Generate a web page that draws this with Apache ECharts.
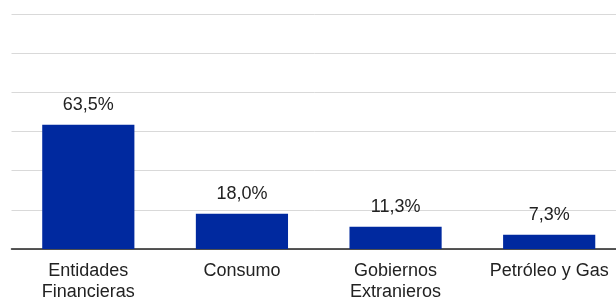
<!DOCTYPE html>
<html><head><meta charset="utf-8">
<script src="https://cdn.jsdelivr.net/npm/echarts@6/dist/echarts.min.js"></script>
<style>html,body{margin:0;padding:0;background:#fff}#c{width:616px;height:299px}</style>
</head><body><div id="c"></div>
<script>
const categories = ["Entidades\nFinancieras", "Consumo", "Gobiernos\nExtranieros", "Petróleo y Gas"];
const values = [63.5, 18.0, 11.3, 7.3];
const yMin = 0, yMax = 120, yStep = 20;

const chart = echarts.init(document.getElementById('c'), null, {renderer: 'canvas'});
chart.setOption({
  animation: false,
  grid: {left: 11.5, width: 614.5, top: 14, bottom: 50, containLabel: false, outerBoundsMode: 'none'},
  xAxis: {
    type: 'category', data: categories,
    axisLine: {lineStyle: {color: '#222', width: 1.5}},
    axisTick: {show: false},
    axisLabel: {color: '#222', fontFamily: 'Liberation Sans, Arial, sans-serif', fontSize: 18, lineHeight: 21, margin: 12, interval: 0}
  },
  yAxis: {
    type: 'value', min: yMin, max: yMax, interval: yStep,
    axisLabel: {show: false}, axisLine: {show: false}, axisTick: {show: false},
    splitLine: {lineStyle: {color: '#d9d9d9', width: 1}}
  },
  series: [{
    type: 'bar', data: values, barWidth: '60%',
    itemStyle: {color: '#00299f'},
    label: {
      show: true, position: 'top', distance: 10, color: '#222',
      fontFamily: 'Liberation Sans, Arial, sans-serif', fontSize: 18, lineHeight: 20,
      formatter: p => p.value.toFixed(1).replace('.', ',') + '%'
    }
  }]
});
</script></body></html>
